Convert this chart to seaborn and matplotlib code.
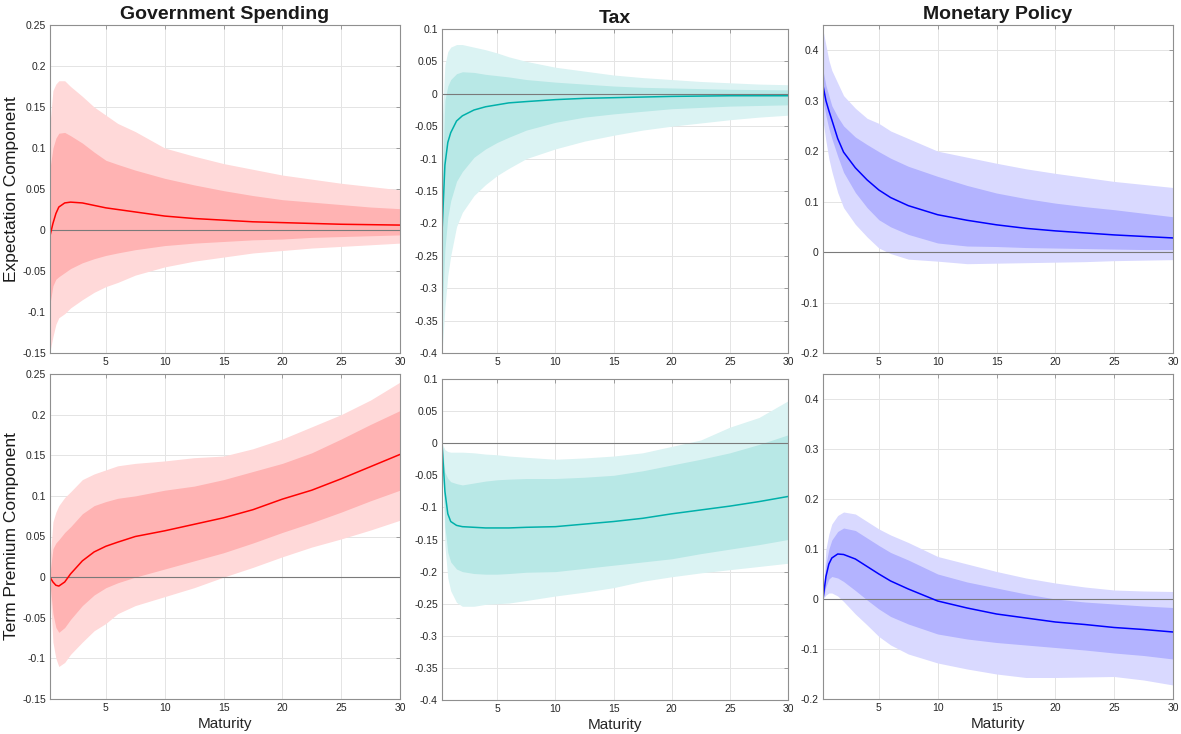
import numpy as np
import pandas as pd
import matplotlib
matplotlib.use("Agg")
import matplotlib.pyplot as plt
from matplotlib.ticker import FuncFormatter, MultipleLocator
import seaborn as sns

# Maturity grid (years)
maturity = [0.25, 0.5, 0.75, 1, 1.5, 2, 3, 4, 5, 6, 7.5, 10, 12.5, 15, 17.5, 20, 22.5, 25, 27.5, 30]

shocks = ["Government Spending", "Tax", "Monetary Policy"]
components = ["Expectation Component", "Term Premium Component"]

# --- Government spending: expectation component
gs_exp_med = [-0.007, 0.008, 0.020, 0.028, 0.033, 0.034, 0.033, 0.030, 0.027, 0.025, 0.022, 0.017, 0.014, 0.012, 0.010, 0.009, 0.008, 0.007, 0.0065, 0.006]
gs_exp_hi90 = [0.13, 0.17, 0.178, 0.182, 0.182, 0.175, 0.163, 0.150, 0.140, 0.130, 0.120, 0.100, 0.090, 0.081, 0.074, 0.067, 0.062, 0.057, 0.053, 0.049]
gs_exp_hi68 = [0.075, 0.100, 0.112, 0.118, 0.119, 0.115, 0.106, 0.095, 0.085, 0.080, 0.073, 0.063, 0.055, 0.048, 0.042, 0.037, 0.034, 0.031, 0.028, 0.026]
gs_exp_lo68 = [-0.090, -0.068, -0.060, -0.057, -0.052, -0.047, -0.040, -0.035, -0.031, -0.028, -0.024, -0.019, -0.016, -0.014, -0.012, -0.011, -0.009, -0.008, -0.007, -0.006]
gs_exp_lo90 = [-0.148, -0.130, -0.115, -0.107, -0.102, -0.095, -0.085, -0.076, -0.069, -0.064, -0.055, -0.045, -0.038, -0.033, -0.028, -0.025, -0.022, -0.020, -0.018, -0.016]

# --- Tax: expectation component
tax_exp_med = [-0.215, -0.110, -0.075, -0.060, -0.042, -0.034, -0.025, -0.020, -0.017, -0.014, -0.012, -0.009, -0.007, -0.006, -0.005, -0.004, -0.0035, -0.003, -0.003, -0.003]
tax_exp_hi90 = [-0.05, 0.045, 0.065, 0.072, 0.076, 0.076, 0.072, 0.068, 0.063, 0.057, 0.050, 0.041, 0.035, 0.029, 0.025, 0.022, 0.019, 0.017, 0.015, 0.014]
tax_exp_hi68 = [-0.15, -0.010, 0.012, 0.022, 0.031, 0.034, 0.033, 0.030, 0.028, 0.026, 0.022, 0.018, 0.015, 0.012, 0.010, 0.009, 0.008, 0.007, 0.0065, 0.006]
tax_exp_lo68 = [-0.34, -0.24, -0.19, -0.165, -0.135, -0.120, -0.098, -0.085, -0.075, -0.067, -0.056, -0.044, -0.036, -0.031, -0.027, -0.023, -0.021, -0.019, -0.018, -0.017]
tax_exp_lo90 = [-0.40, -0.33, -0.28, -0.25, -0.205, -0.183, -0.157, -0.140, -0.126, -0.115, -0.100, -0.085, -0.073, -0.064, -0.056, -0.050, -0.045, -0.040, -0.036, -0.033]

# --- Monetary policy: expectation component
mp_exp_med = [0.33, 0.30, 0.28, 0.262, 0.225, 0.198, 0.167, 0.143, 0.123, 0.108, 0.092, 0.074, 0.063, 0.054, 0.047, 0.042, 0.038, 0.034, 0.031, 0.028]
mp_exp_hi90 = [0.44, 0.41, 0.38, 0.36, 0.335, 0.31, 0.285, 0.265, 0.255, 0.24, 0.225, 0.200, 0.188, 0.176, 0.165, 0.156, 0.148, 0.140, 0.134, 0.128]
mp_exp_hi68 = [0.36, 0.33, 0.31, 0.29, 0.268, 0.25, 0.228, 0.213, 0.199, 0.186, 0.170, 0.150, 0.132, 0.117, 0.106, 0.097, 0.090, 0.084, 0.077, 0.070]
mp_exp_lo68 = [0.30, 0.27, 0.245, 0.225, 0.19, 0.158, 0.118, 0.088, 0.064, 0.050, 0.035, 0.018, 0.012, 0.011, 0.009, 0.008, 0.007, 0.006, 0.005, 0.005]
mp_exp_lo90 = [0.26, 0.22, 0.185, 0.16, 0.118, 0.088, 0.055, 0.030, 0.008, -0.003, -0.014, -0.018, -0.023, -0.022, -0.021, -0.020, -0.019, -0.017, -0.016, -0.015]

# --- Government spending: term premium component
gs_tp_med = [0.0, -0.006, -0.010, -0.011, -0.006, 0.004, 0.020, 0.031, 0.038, 0.043, 0.050, 0.057, 0.065, 0.073, 0.083, 0.096, 0.107, 0.121, 0.136, 0.151]
gs_tp_hi90 = [0.02, 0.068, 0.080, 0.088, 0.098, 0.105, 0.120, 0.127, 0.132, 0.137, 0.140, 0.143, 0.147, 0.149, 0.158, 0.170, 0.185, 0.200, 0.218, 0.240]
gs_tp_hi68 = [0.005, 0.035, 0.042, 0.046, 0.055, 0.062, 0.078, 0.088, 0.093, 0.097, 0.100, 0.107, 0.112, 0.120, 0.130, 0.140, 0.153, 0.170, 0.188, 0.205]
gs_tp_lo68 = [-0.008, -0.045, -0.062, -0.068, -0.062, -0.052, -0.035, -0.022, -0.013, -0.007, 0.0, 0.010, 0.020, 0.030, 0.042, 0.055, 0.067, 0.080, 0.094, 0.107]
gs_tp_lo90 = [-0.015, -0.080, -0.100, -0.110, -0.105, -0.095, -0.080, -0.066, -0.057, -0.045, -0.035, -0.024, -0.013, 0.0, 0.012, 0.025, 0.037, 0.047, 0.058, 0.070]

# --- Tax: term premium component
tax_tp_med = [0.0, -0.075, -0.110, -0.122, -0.128, -0.130, -0.131, -0.132, -0.132, -0.132, -0.131, -0.130, -0.126, -0.122, -0.117, -0.110, -0.104, -0.098, -0.091, -0.083]
tax_tp_hi90 = [0.0, -0.010, -0.013, -0.014, -0.014, -0.014, -0.015, -0.017, -0.018, -0.020, -0.022, -0.025, -0.023, -0.020, -0.015, -0.005, 0.005, 0.025, 0.040, 0.066]
tax_tp_hi68 = [0.0, -0.045, -0.055, -0.060, -0.063, -0.065, -0.062, -0.059, -0.057, -0.056, -0.055, -0.055, -0.053, -0.050, -0.043, -0.034, -0.025, -0.015, -0.002, 0.013]
tax_tp_lo68 = [0.0, -0.130, -0.170, -0.185, -0.196, -0.200, -0.203, -0.204, -0.204, -0.203, -0.201, -0.200, -0.195, -0.190, -0.185, -0.180, -0.172, -0.165, -0.158, -0.150]
tax_tp_lo90 = [0.0, -0.160, -0.210, -0.230, -0.248, -0.254, -0.254, -0.251, -0.250, -0.249, -0.245, -0.238, -0.232, -0.225, -0.215, -0.208, -0.202, -0.197, -0.192, -0.187]

# --- Monetary policy: term premium component
mp_tp_med = [0.0, 0.045, 0.070, 0.082, 0.090, 0.089, 0.080, 0.065, 0.050, 0.036, 0.020, -0.004, -0.018, -0.030, -0.038, -0.046, -0.051, -0.057, -0.061, -0.066]
mp_tp_hi90 = [0.01, 0.100, 0.130, 0.150, 0.167, 0.174, 0.170, 0.155, 0.140, 0.128, 0.113, 0.085, 0.070, 0.055, 0.042, 0.032, 0.024, 0.018, 0.016, 0.015]
mp_tp_hi68 = [0.005, 0.070, 0.100, 0.118, 0.135, 0.142, 0.137, 0.122, 0.107, 0.093, 0.078, 0.050, 0.034, 0.022, 0.010, 0.0, -0.006, -0.010, -0.014, -0.017]
mp_tp_lo68 = [0.0, 0.025, 0.040, 0.045, 0.042, 0.035, 0.017, -0.002, -0.020, -0.035, -0.050, -0.070, -0.080, -0.087, -0.092, -0.097, -0.102, -0.108, -0.113, -0.120]
mp_tp_lo90 = [0.0, 0.008, 0.012, 0.012, 0.006, -0.005, -0.030, -0.052, -0.075, -0.092, -0.110, -0.128, -0.140, -0.150, -0.157, -0.157, -0.156, -0.155, -0.162, -0.172]

line_colors = ["#ff0000", "#00b0aa", "#0000ff"]
inner_colors = ["#ffb3b3", "#b8e8e6", "#b3b3ff"]
outer_colors = ["#ffd9d9", "#dbf3f3", "#d9d9ff"]

panels = [
    [(gs_exp_med, gs_exp_lo90, gs_exp_lo68, gs_exp_hi68, gs_exp_hi90),
     (tax_exp_med, tax_exp_lo90, tax_exp_lo68, tax_exp_hi68, tax_exp_hi90),
     (mp_exp_med, mp_exp_lo90, mp_exp_lo68, mp_exp_hi68, mp_exp_hi90)],
    [(gs_tp_med, gs_tp_lo90, gs_tp_lo68, gs_tp_hi68, gs_tp_hi90),
     (tax_tp_med, tax_tp_lo90, tax_tp_lo68, tax_tp_hi68, tax_tp_hi90),
     (mp_tp_med, mp_tp_lo90, mp_tp_lo68, mp_tp_hi68, mp_tp_hi90)],
]

y_limits = [(-0.15, 0.25), (-0.4, 0.1), (-0.2, 0.45)]
y_steps = [0.05, 0.05, 0.1]

# axes rectangles in pixels: (left, top, right, bottom)
W, H = 1181, 734
rects = [
    [(50, 25, 400, 353), (442, 29, 788, 353), (823, 25, 1173, 353)],
    [(50, 374, 400, 699), (442, 379, 788, 700), (823, 374, 1173, 699)],
]

sns.set_style("white")
plt.rcParams["font.family"] = ["Liberation Sans", "DejaVu Sans"]

fig = plt.figure(figsize=(W / 100, H / 100), dpi=100)

edge = "#8f8f8f"
fmt = FuncFormatter(lambda v, p: ("%g" % round(v, 4)) if abs(v) > 1e-9 else "0")

for r in range(2):
    for c in range(3):
        l, t, rt, b = rects[r][c]
        ax = fig.add_axes([l / W, 1 - b / H, (rt - l) / W, (b - t) / H])
        med, lo90, lo68, hi68, hi90 = panels[r][c]
        df = pd.DataFrame({"Maturity": maturity, "value": med,
                           "lo90": lo90, "lo68": lo68, "hi68": hi68, "hi90": hi90})
        ax.fill_between(df["Maturity"], df["lo90"], df["hi90"], color=outer_colors[c], lw=0, zorder=1)
        ax.fill_between(df["Maturity"], df["lo68"], df["hi68"], color=inner_colors[c], lw=0, zorder=2)
        ax.axhline(0, color="#7a7a7a", lw=0.8, zorder=3)
        sns.lineplot(data=df, x="Maturity", y="value", ax=ax, color=line_colors[c],
                     lw=1.1, zorder=4, legend=False)
        ax.set_xlim(0.25, 30)
        ax.set_ylim(*y_limits[c])
        ax.xaxis.set_major_locator(MultipleLocator(5))
        ax.yaxis.set_major_locator(MultipleLocator(y_steps[c]))
        ax.yaxis.set_major_formatter(fmt)
        ax.grid(True, color="#e4e4e4", lw=0.7, zorder=0)
        ax.set_axisbelow(True)
        for s in ax.spines.values():
            s.set_color(edge)
            s.set_linewidth(0.8)
            s.set_zorder(6)
        ax.tick_params(direction="in", length=3, width=0.6, color=edge,
                       top=True, right=True, labelsize=7.5, labelcolor="#262626", pad=3)
        ax.set_ylabel("")
        ax.set_xlabel("")
        if r == 0:
            ax.set_title(shocks[c], fontsize=14, fontweight="bold", color="#1a1a1a", pad=4)
        if r == 1:
            ax.set_xlabel("Maturity", fontsize=11, color="#262626", labelpad=3)
        if c == 0:
            ax.set_ylabel(components[r], fontsize=12.5, color="#1a1a1a")
            ax.yaxis.set_label_coords(-0.088, 0.5)

fig.savefig("out.png", dpi=100)
